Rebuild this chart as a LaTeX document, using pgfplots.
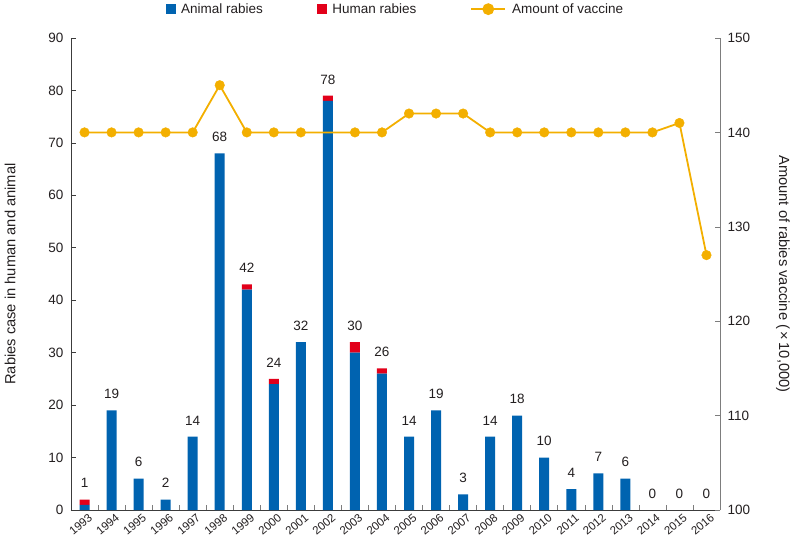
\documentclass[border=0pt]{standalone}
\usepackage{fontspec}
\setmainfont{Liberation Sans}
\usepackage{pgfplots}
\pgfplotsset{compat=1.18}
\usepackage{pgfplotstable}
\definecolor{animal}{RGB}{0,99,176}
\definecolor{human}{RGB}{226,0,26}
\definecolor{vacc}{RGB}{243,175,0}
\definecolor{axgray}{RGB}{125,125,125}
\definecolor{axdark}{RGB}{60,60,60}
\definecolor{txt}{RGB}{35,31,32}

\pgfplotstableread{
x year animal human tot lab vacc
0 1993 1 1 2 1 140
1 1994 19 0 19 19 140
2 1995 6 0 6 6 140
3 1996 2 0 2 2 140
4 1997 14 0 14 14 140
5 1998 68 0 68 68 145
6 1999 42 1 43 42 140
7 2000 24 1 25 24 140
8 2001 32 0 32 32 140
9 2002 78 1 79 78 140
10 2003 30 2 32 30 140
11 2004 26 1 27 26 140
12 2005 14 0 14 14 142
13 2006 19 0 19 19 142
14 2007 3 0 3 3 142
15 2008 14 0 14 14 140
16 2009 18 0 18 18 140
17 2010 10 0 10 10 140
18 2011 4 0 4 4 140
19 2012 7 0 7 7 140
20 2013 6 0 6 6 140
21 2014 0 0 0 0 140
22 2015 0 0 0 0 141
23 2016 0 0 0 0 127
}\datatable

\pgfplotsset{
  animallegend/.style={legend image code/.code={\fill[animal] (0pt,-4.5pt) rectangle (9pt,4.5pt);}},
  humanlegend/.style={legend image code/.code={\fill[human] (0pt,-4.5pt) rectangle (9pt,4.5pt);}},
  vacclegend/.style={legend image code/.code={\draw[vacc, line width=1.8pt] (0pt,0pt) -- (34pt,0pt); \fill[vacc] (17pt,0pt) circle (5pt);}},
  base/.style={at={(0pt,0pt)}, anchor=south west,
    width=649pt, height=472pt, scale only axis,
    xmin=-0.5, xmax=23.5,
    font=\fontsize{13.5}{16}\selectfont,
    /pgf/number format/assume math mode=true,
    tick label style={text=txt}},
}

\begin{document}
\begin{tikzpicture}
\path[use as bounding box] (-71pt,-39pt) rectangle (720pt,510pt);
\begin{axis}[
  base, ymin=0, ymax=90,
  ybar stacked, bar width=10pt,
  axis x line*=bottom, axis y line*=left,
  x axis line style={axdark, line width=0.8pt, -},
  y axis line style={axdark, line width=0.8pt, -},
  tick align=inside,
  major tick length=5pt, minor tick length=5pt,
  xtick={0,...,23},
  xticklabels from table={\datatable}{year},
  minor xtick={0.5,1.5,...,22.5},
  every major x tick/.append style={draw=none},
  every minor x tick/.append style={axgray, line width=0.6pt},
  every major y tick/.append style={axdark, line width=0.6pt},
  ytick={0,10,...,90},
  yticklabel style={xshift=-4pt},
  xticklabel style={rotate=40, anchor=north east, font=\fontsize{11.5}{13}\selectfont, xshift=4pt, yshift=-1pt},
  ylabel={Rabies case in human and animal},
  ylabel style={at={(axis description cs:-0.094,0.5)}, anchor=center, text=txt, font=\fontsize{14.7}{17}\selectfont},
]
\addplot[fill=animal, draw=none] table[x=x, y=animal]{\datatable};
\addplot[fill=human, draw=none] table[x=x, y=human]{\datatable};
\end{axis}
\begin{axis}[
  base, ymin=0, ymax=90, hide axis,
]
\addplot[only marks, mark=none, nodes near coords, point meta=explicit symbolic,
  every node near coord/.append style={anchor=south, yshift=8pt, text=txt, font=\fontsize{13.5}{16}\selectfont}]
  table[x=x, y=tot, meta=lab]{\datatable};
\end{axis}
\begin{axis}[
  base, ymin=100, ymax=150,
  axis y line*=right, axis x line=none,
  y axis line style={axgray, line width=0.8pt, -},
  tick align=inside, major tick length=5pt,
  every major y tick/.append style={axgray, line width=0.6pt},
  ytick={100,110,...,150},
  yticklabel style={xshift=4pt},
  ylabel={Amount of rabies vaccine (\,×\,10,000)},
  ylabel style={at={(axis description cs:1.097,0.5)}, anchor=center, rotate=180, text=txt, font=\fontsize{14.7}{17}\selectfont},
  legend columns=3,
  legend style={draw=none, fill=none, at={(0.5,1)}, anchor=south, yshift=19pt,
    font=\fontsize{13.5}{16}\selectfont, text=txt,
    /tikz/every odd column/.append style={column sep=4pt},
    /tikz/every even column/.append style={column sep=52pt}},
  legend cell align=left,
]
\addlegendimage{animallegend}
\addlegendentry{Animal rabies}
\addlegendimage{humanlegend}
\addlegendentry{Human rabies}
\addplot[vacc, line width=1.8pt, mark=*, mark size=4.8pt, mark options={fill=vacc, draw=vacc, line width=0.4pt},
  mark indices={1,2,3,4,5,6,7,8,9,11,12,13,14,15,16,17,18,19,20,21,22,23,24}, vacclegend]
  table[x=x, y=vacc]{\datatable};
\addlegendentry{Amount of vaccine}
\end{axis}
\end{tikzpicture}
\end{document}
